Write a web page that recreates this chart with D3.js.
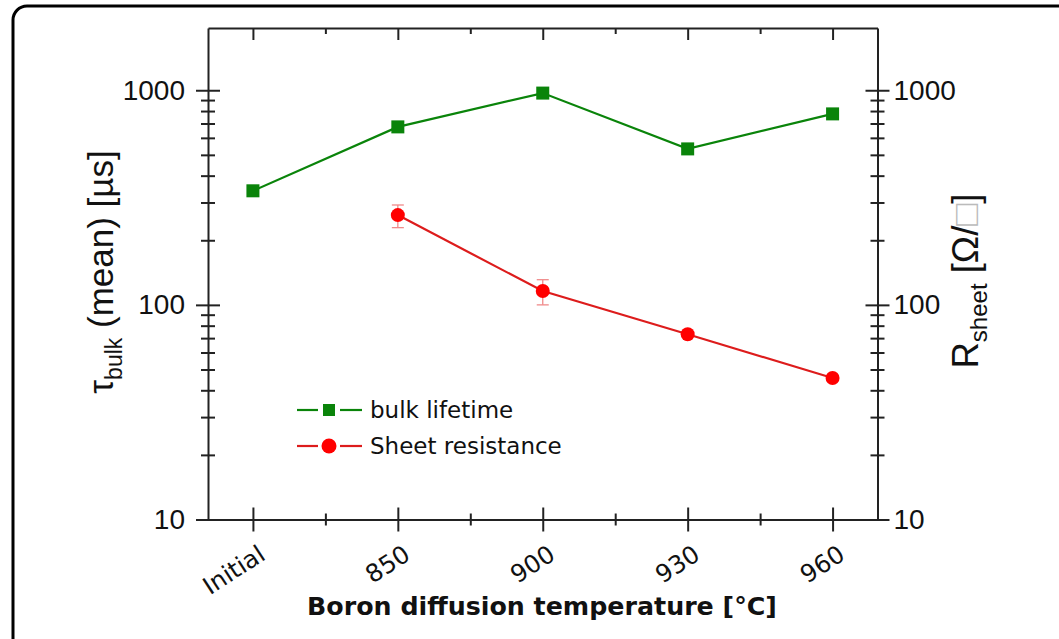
<!DOCTYPE html>
<html><head><meta charset="utf-8">
<script src="https://cdn.jsdelivr.net/npm/d3@7"></script>
<style>body{margin:0;background:#fff;}svg{display:block;}</style>
</head><body>
<svg id="c" width="1059" height="639"></svg>
<script>
const categories = ["Initial", "850", "900", "930", "960"];
const bulkLifetime = [340, 675, 970, 533, 776];
const sheetCats = ["850", "900", "930", "960"];
const sheetRes = [262, 116, 73, 45.6];
const sheetErrLow = [229, 100, 73, 45.6];
const sheetErrHigh = [292, 131, 73, 45.6];
const yMajorTicks = [10, 100, 1000];
const yMinorTicks = [20,30,40,50,60,70,80,90,200,300,400,500,600,700,800,900];
const xMinorTicks = [0.5, 1.5, 2.5, 3.5];

const svg = d3.select("#c");
const L = 208, R = 877.5, T = 28, B = 519.5;

// frame
svg.append("rect").attr("x", 13).attr("y", 6).attr("width", 1060).attr("height", 700)
  .attr("rx", 14).attr("fill", "none").attr("stroke", "#000").attr("stroke-width", 3);

const x = d3.scaleLinear().domain([-0.31, 4.31]).range([L, R]);
const y = d3.scaleLog().domain([10, 1950]).range([B, T]);
const idx = c => categories.indexOf(c);

const axisStyle = g => {
  g.select(".domain").attr("stroke", "#222").attr("stroke-width", 2);
  g.selectAll(".tick line").attr("stroke", "#222").attr("stroke-width", 2);
};
function noDomain(g){ g.select(".domain").remove(); g.selectAll(".tick line").attr("stroke", "#222").attr("stroke-width", 2); }

// left axis
const gl = svg.append("g").attr("transform", `translate(${L},0)`);
gl.call(d3.axisLeft(y).tickValues(yMajorTicks).tickSize(12).tickSizeOuter(0).tickFormat(d3.format("d")).tickPadding(11))
  .call(axisStyle);
gl.selectAll(".tick text").attr("font-family", "Liberation Sans, Arial, sans-serif").attr("font-size", 28).attr("fill", "#111");
gl.append("g").call(d3.axisRight(y).tickValues(yMajorTicks).tickSize(12).tickFormat("")).call(noDomain);
gl.append("g").call(d3.axisLeft(y).tickValues(yMinorTicks).tickSize(7).tickFormat("")).call(noDomain);
gl.append("g").call(d3.axisRight(y).tickValues(yMinorTicks).tickSize(7).tickFormat("")).call(noDomain);

// right axis
const gr = svg.append("g").attr("transform", `translate(${R},0)`);
gr.call(d3.axisRight(y).tickValues(yMajorTicks).tickSize(12).tickSizeOuter(0).tickFormat(d3.format("d")).tickPadding(4))
  .call(axisStyle);
gr.selectAll(".tick text").attr("font-family", "Liberation Sans, Arial, sans-serif").attr("font-size", 28).attr("fill", "#111");
gr.append("g").call(d3.axisLeft(y).tickValues(yMajorTicks).tickSize(12).tickFormat("")).call(noDomain);
gr.append("g").call(d3.axisLeft(y).tickValues(yMinorTicks).tickSize(7).tickFormat("")).call(noDomain);
gr.append("g").call(d3.axisRight(y).tickValues(yMinorTicks).tickSize(7).tickFormat("")).call(noDomain);

// bottom axis
const gb = svg.append("g").attr("transform", `translate(0,${B})`);
gb.call(d3.axisBottom(x).tickValues([0,1,2,3,4]).tickSize(12).tickSizeOuter(0).tickFormat(""))
  .call(axisStyle);
gb.append("g").call(d3.axisTop(x).tickValues([0,1,2,3,4]).tickSize(12).tickFormat("")).call(noDomain);
gb.append("g").call(d3.axisBottom(x).tickValues(xMinorTicks).tickSize(6).tickFormat("")).call(noDomain);
gb.append("g").call(d3.axisTop(x).tickValues(xMinorTicks).tickSize(6).tickFormat("")).call(noDomain);
gb.selectAll(".xlab").data(categories).enter().append("text")
  .attr("class", "xlab")
  .attr("transform", (d, i) => `translate(${x(i) + 14},${39}) rotate(-33)`)
  .attr("text-anchor", "end")
  .attr("font-family", "DejaVu Sans, Verdana, sans-serif").attr("font-size", 24.5).attr("fill", "#111")
  .text(d => d);

// top axis
const gt = svg.append("g").attr("transform", `translate(0,${T})`);
gt.call(d3.axisBottom(x).tickValues([0,1,2,3,4]).tickSize(12).tickSizeOuter(0).tickFormat("")).call(axisStyle);
gt.append("g").call(d3.axisBottom(x).tickValues(xMinorTicks).tickSize(6).tickFormat("")).call(noDomain);

// titles
svg.append("text").attr("x", 542).attr("y", 615).attr("text-anchor", "middle")
  .attr("font-family", "DejaVu Sans, Verdana, sans-serif").attr("font-weight", "bold").attr("font-size", 25.3).attr("fill", "#111")
  .text("Boron diffusion temperature [°C]");

const lt = svg.append("text").attr("transform", "translate(113,272) rotate(-90)").attr("text-anchor", "middle")
  .attr("font-family", "Liberation Sans, Arial, sans-serif").attr("font-size", 35).attr("fill", "#111");
lt.append("tspan").text("τ");
lt.append("tspan").attr("font-size", 23).attr("dy", 9).text("bulk");
lt.append("tspan").attr("dy", -9).text(" (mean) [µs]");

const rt = svg.append("text").attr("transform", "translate(978,281) rotate(-90)").attr("text-anchor", "middle")
  .attr("font-family", "Liberation Sans, Arial, sans-serif").attr("font-size", 36.5).attr("fill", "#111");
rt.append("tspan").text("R");
rt.append("tspan").attr("font-size", 24).attr("dy", 9).text("sheet");
rt.append("tspan").attr("dy", -9).text(" [Ω/");
rt.append("tspan").attr("fill", "#bbb").text("□");
rt.append("tspan").text("]");

// series
const green = "#0a840a", red = "#ff0000", redLine = "#dd1c1c";
const line = d3.line().x(d => x(d[0])).y(d => y(d[1]));
const bulkPts = categories.map((c, i) => [idx(c), bulkLifetime[i]]);
const sheetPts = sheetCats.map((c, i) => [idx(c), sheetRes[i]]);

svg.append("path").attr("d", line(bulkPts)).attr("fill", "none").attr("stroke", green).attr("stroke-width", 2.2);
svg.append("path").attr("d", line(sheetPts)).attr("fill", "none").attr("stroke", redLine).attr("stroke-width", 2.2);

// error bars
const eb = svg.append("g").attr("stroke", "#f08a8a").attr("stroke-width", 1.3);
sheetCats.forEach((c, i) => {
  if (sheetErrHigh[i] === sheetErrLow[i]) return;
  const cx = x(idx(c));
  eb.append("line").attr("x1", cx).attr("x2", cx).attr("y1", y(sheetErrHigh[i])).attr("y2", y(sheetErrLow[i]));
  eb.append("line").attr("x1", cx - 6).attr("x2", cx + 6).attr("y1", y(sheetErrHigh[i])).attr("y2", y(sheetErrHigh[i]));
  eb.append("line").attr("x1", cx - 6).attr("x2", cx + 6).attr("y1", y(sheetErrLow[i])).attr("y2", y(sheetErrLow[i]));
});

svg.selectAll(".sq").data(bulkPts).enter().append("rect")
  .attr("x", d => x(d[0]) - 6.5).attr("y", d => y(d[1]) - 6.5).attr("width", 13).attr("height", 13).attr("fill", green);
svg.selectAll(".ci").data(sheetPts).enter().append("circle")
  .attr("cx", d => x(d[0])).attr("cy", d => y(d[1])).attr("r", 7).attr("fill", red);

// legend
const lg = svg.append("g");
const legItems = [{label: "bulk lifetime", color: green, line: green, shape: "sq", yy: 410},
                  {label: "Sheet resistance", color: red, line: redLine, shape: "ci", yy: 446}];
legItems.forEach(it => {
  lg.append("line").attr("x1", 297).attr("x2", 318).attr("y1", it.yy).attr("y2", it.yy).attr("stroke", it.line).attr("stroke-width", 2.2);
  lg.append("line").attr("x1", 340).attr("x2", 362).attr("y1", it.yy).attr("y2", it.yy).attr("stroke", it.line).attr("stroke-width", 2.2);
  if (it.shape === "sq") lg.append("rect").attr("x", 329 - 6).attr("y", it.yy - 6).attr("width", 12).attr("height", 12).attr("fill", it.color);
  else lg.append("circle").attr("cx", 329).attr("cy", it.yy).attr("r", 7.5).attr("fill", it.color);
  lg.append("text").attr("x", 370).attr("y", it.yy + 8).attr("font-family", "DejaVu Sans, Verdana, sans-serif")
    .attr("font-size", 23).attr("fill", "#111").text(it.label);
});
</script>
</body></html>
